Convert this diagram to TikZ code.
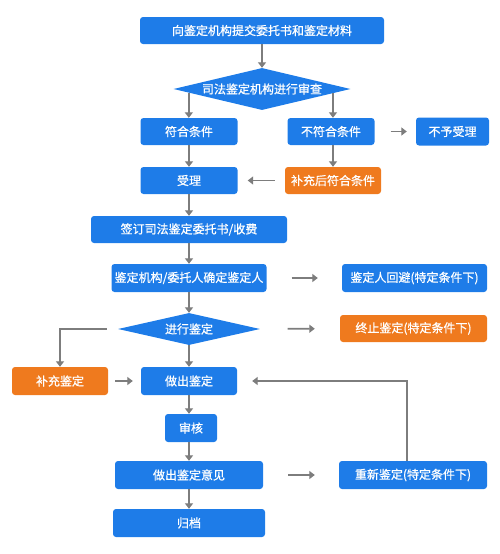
\documentclass[tikz,border=0pt]{standalone}
\usepackage{fontspec}
\setmainfont{Noto Sans CJK SC}[FakeBold=0.8]
\usepackage{tikz}
\usetikzlibrary{shapes.geometric, arrows.meta, calc}

\definecolor{boxblue}{RGB}{30,124,232}
\definecolor{boxorange}{RGB}{239,122,30}
\definecolor{linegray}{RGB}{125,125,125}

\tikzset{
    box/.style={rectangle, rounded corners=3pt, fill=boxblue, text=white,
        minimum height=27pt, inner sep=0pt, font=\fontsize{12}{14}\selectfont},
    obox/.style={box, fill=boxorange},
    check/.style={diamond, fill=boxblue, text=white, inner sep=0pt, aspect=4,
        font=\fontsize{12}{14}\selectfont},
    link/.style={draw=linegray, line width=1.6pt, -{Triangle[length=5.5pt,width=8pt]}}
}

\begin{document}
\begin{tikzpicture}[x=1pt, y=-1pt]
        \useasboundingbox (0,0) rectangle (500,554);
        \node[box, minimum width=244pt] (submit) at (262,30.5) {向鉴定机构提交委托书和鉴定材料};
        \node[check, minimum width=177pt, minimum height=42pt] (review) at (262,89) {司法鉴定机构进行审查};
        \node[box, minimum width=97pt] (fit) at (189,131.5) {符合条件};
        \node[box, minimum width=87pt] (unfit) at (331,131.5) {不符合条件};
        \node[box, minimum width=73pt, minimum height=28pt] (reject) at (452.5,131.5) {不予受理};
        \node[box, minimum width=97pt] (accept) at (189,180.5) {受理};
        \node[obox, minimum width=96pt] (amend) at (333,180.5) {补充后符合条件};
        \node[box, minimum width=196pt] (sign) at (189,229.5) {签订司法鉴定委托书/收费};
        \node[box, minimum width=155pt, minimum height=28pt] (appoint) at (189,278) {鉴定机构/委托人确定鉴定人};
        \node[box, minimum width=145pt, minimum height=28pt] (recuse) at (414.5,278) {鉴定人回避(特定条件下)};
        \node[check, minimum width=142pt, minimum height=32pt] (conduct) at (189,329) {进行鉴定};
        \node[obox, minimum width=147pt] (stop) at (413.5,328.5) {终止鉴定(特定条件下)};
        \node[obox, minimum width=96pt, minimum height=28pt] (extra) at (60,381) {补充鉴定};
        \node[box, minimum width=96pt, minimum height=28pt] (make) at (189,381) {做出鉴定};
        \node[box, minimum width=52pt, minimum height=28pt] (audit) at (191,428) {审核};
        \node[box, minimum width=148pt, minimum height=28pt] (opinion) at (189,475) {做出鉴定意见};
        \node[box, minimum width=148pt, minimum height=28pt] (redo) at (413,475) {重新鉴定(特定条件下)};
        \node[box, minimum width=152pt, minimum height=28pt] (archive) at (189,523) {归档};
        \coordinate (reviewL) at ($(review.west)!0.175!(review.south)$);
        \coordinate (reviewR) at ($(review.east)!0.2!(review.south)$);
        \draw[link] (submit) -- (review);
        \draw[link] (reviewL) -- (reviewL |- fit.north);
        \draw[link] (reviewR) -- (reviewR |- unfit.north);
        \draw[link, shorten <=16pt, shorten >=9pt] (unfit) -- (reject);
        \draw[link] (fit) -- (accept);
        \draw[link] (unfit.south -| amend) -- (amend);
        \draw[link, shorten <=10pt, shorten >=10pt] (amend) -- (accept);
        \draw[link] (accept) -- (sign);
        \draw[link] (sign) -- (appoint);
        \draw[link, shorten <=25pt, shorten >=24pt] (appoint) -- (recuse);
        \draw[link] (appoint) -- (conduct);
        \draw[link, shorten <=28pt, shorten >=25pt] (conduct) -- (stop);
        \draw[link] ([xshift=-11pt]conduct.west) -| (extra.north);
        \draw[link] (conduct) -- (make);
        \draw[link, shorten <=7pt, shorten >=8pt] (extra) -- (make);
        \draw[link] (make.south) -- (make.south |- audit.north);
        \draw[link] (audit.south -| opinion) -- (opinion);
        \draw[link, shorten <=25pt, shorten >=24pt] (opinion) -- (redo);
        \draw[link] (opinion) -- (archive);
        \draw[link] ([xshift=-6pt]redo.north) |- ([xshift=15pt]make.east);
    \end{tikzpicture}
\end{document}
